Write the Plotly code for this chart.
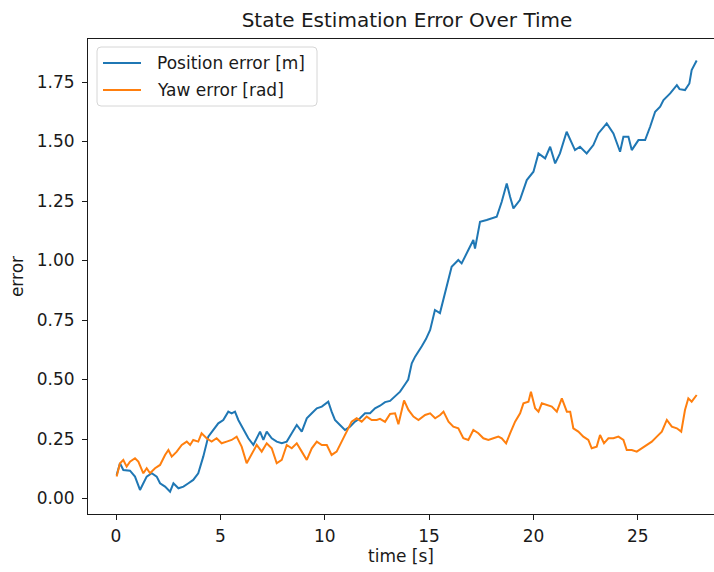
import plotly.graph_objects as go

# Position error [m]
t_pos = [0.03, 0.19, 0.35, 0.67, 0.91, 1.15, 1.31, 1.47, 1.71, 1.95, 2.11, 2.35, 2.59, 2.75, 2.99,
         3.23, 3.47, 3.70, 3.94, 4.18, 4.42, 4.66, 4.90, 5.14, 5.38, 5.54, 5.70, 5.86, 6.10, 6.34,
         6.58, 6.74, 6.90, 7.06, 7.22, 7.46, 7.70, 7.94, 8.18, 8.42, 8.66, 8.90, 9.14, 9.38, 9.62,
         9.86, 10.17, 10.33, 10.49, 10.73, 10.97, 11.21, 11.45, 11.69, 11.93, 12.17, 12.41, 12.65,
         12.89, 13.13, 13.37, 13.61, 13.85, 14.00, 14.17, 14.33, 14.65, 14.85, 15.05, 15.28, 15.52,
         15.76, 16.08, 16.40, 16.56, 16.88, 17.12, 17.20, 17.44, 17.76, 18.24, 18.48, 18.72, 18.88,
         19.04, 19.35, 19.68, 20.00, 20.24, 20.56, 20.80, 21.04, 21.27, 21.59, 21.75, 21.99, 22.23,
         22.55, 22.87, 23.11, 23.51, 23.83, 24.15, 24.31, 24.55, 24.71, 25.03, 25.35, 25.59, 25.83,
         26.07, 26.23, 26.55, 26.87, 27.00, 27.26, 27.47, 27.58, 27.82]
pos_err = [0.099, 0.148, 0.120, 0.117, 0.092, 0.036, 0.064, 0.092, 0.106, 0.092, 0.064, 0.050, 0.029,
           0.064, 0.043, 0.050, 0.064, 0.078, 0.106, 0.176, 0.260, 0.288, 0.316, 0.330, 0.365, 0.358,
           0.365, 0.330, 0.288, 0.253, 0.225, 0.253, 0.281, 0.246, 0.281, 0.253, 0.239, 0.232, 0.239,
           0.274, 0.309, 0.281, 0.337, 0.358, 0.379, 0.386, 0.407, 0.365, 0.330, 0.309, 0.288, 0.302,
           0.323, 0.337, 0.358, 0.358, 0.379, 0.390, 0.405, 0.410, 0.430, 0.449, 0.480, 0.500, 0.568,
           0.596, 0.640, 0.670, 0.708, 0.792, 0.779, 0.863, 0.974, 1.002, 0.988, 1.044, 1.086, 1.050,
           1.163, 1.170, 1.184, 1.247, 1.324, 1.268, 1.219, 1.254, 1.338, 1.373, 1.450, 1.429, 1.478,
           1.408, 1.450, 1.541, 1.510, 1.464, 1.478, 1.450, 1.485, 1.534, 1.576, 1.534, 1.457, 1.520,
           1.520, 1.464, 1.506, 1.506, 1.562, 1.625, 1.646, 1.674, 1.702, 1.737, 1.720, 1.716, 1.744,
           1.800, 1.840]

# Yaw error [rad]
t_yaw = [0.03, 0.19, 0.35, 0.51, 0.67, 0.91, 1.07, 1.31, 1.47, 1.63, 1.87, 2.11, 2.35, 2.51, 2.67,
         2.91, 3.15, 3.39, 3.55, 3.70, 3.94, 4.10, 4.34, 4.58, 4.82, 5.06, 5.30, 5.54, 5.78, 6.02,
         6.26, 6.50, 6.74, 6.98, 7.22, 7.46, 7.70, 7.94, 8.18, 8.42, 8.66, 8.90, 9.14, 9.38, 9.62,
         9.86, 10.10, 10.33, 10.57, 10.81, 11.05, 11.29, 11.53, 11.77, 12.01, 12.25, 12.49, 12.65,
         12.89, 13.13, 13.37, 13.53, 13.80, 14.01, 14.25, 14.49, 14.81, 15.05, 15.29, 15.53, 15.69,
         15.93, 16.16, 16.40, 16.64, 16.88, 17.12, 17.36, 17.60, 17.84, 18.08, 18.32, 18.48, 18.69,
         18.88, 19.12, 19.36, 19.52, 19.76, 19.88, 20.08, 20.24, 20.40, 20.64, 20.88, 21.12, 21.36,
         21.60, 21.76, 21.91, 22.15, 22.39, 22.63, 22.79, 23.03, 23.19, 23.38, 23.59, 23.83, 24.07,
         24.31, 24.47, 24.71, 24.95, 25.19, 25.43, 25.67, 25.91, 26.15, 26.39, 26.63, 26.87, 27.08,
         27.26, 27.42, 27.58, 27.82]
yaw_err = [0.092, 0.148, 0.162, 0.134, 0.155, 0.169, 0.155, 0.106, 0.127, 0.106, 0.127, 0.141, 0.183,
           0.204, 0.176, 0.197, 0.225, 0.239, 0.225, 0.246, 0.239, 0.274, 0.253, 0.239, 0.253, 0.232,
           0.239, 0.246, 0.260, 0.218, 0.148, 0.190, 0.225, 0.197, 0.232, 0.211, 0.148, 0.162, 0.225,
           0.211, 0.232, 0.197, 0.162, 0.211, 0.239, 0.225, 0.225, 0.183, 0.197, 0.239, 0.281, 0.323,
           0.337, 0.323, 0.344, 0.330, 0.330, 0.335, 0.322, 0.355, 0.358, 0.312, 0.412, 0.372, 0.344,
           0.330, 0.351, 0.358, 0.337, 0.351, 0.365, 0.323, 0.302, 0.295, 0.253, 0.246, 0.288, 0.274,
           0.253, 0.246, 0.253, 0.260, 0.253, 0.232, 0.274, 0.323, 0.358, 0.400, 0.407, 0.449, 0.379,
           0.365, 0.400, 0.393, 0.386, 0.365, 0.421, 0.365, 0.365, 0.295, 0.281, 0.260, 0.246, 0.211,
           0.218, 0.267, 0.232, 0.253, 0.253, 0.260, 0.246, 0.204, 0.204, 0.197, 0.211, 0.225, 0.239,
           0.260, 0.281, 0.330, 0.302, 0.295, 0.281, 0.372, 0.421, 0.407, 0.435]

series_names = ["Position error [m]", "Yaw error [rad]"]
series_colors = ["#1f77b4", "#ff7f0e"]

x_ticks = [0, 5, 10, 15, 20, 25]
y_ticks = [0.00, 0.25, 0.50, 0.75, 1.00, 1.25, 1.50, 1.75]
y_tick_text = ["0.00", "0.25", "0.50", "0.75", "1.00", "1.25", "1.50", "1.75"]

FONT = "DejaVu Sans"
TXT = "#1a1a1a"
FS = 17

# plot-area pixel geometry (used for the hand-drawn legend box)
W, H = 714, 572
L, R, T, B = 88, 0, 39, 58
PW, PH = W - L - R, H - T - B


def px(x):
    return (x - L) / PW


def py(y):
    return (H - B - y) / PH


fig = go.Figure()
for xs, ys, nm, col in [(t_pos, pos_err, series_names[0], series_colors[0]),
                        (t_yaw, yaw_err, series_names[1], series_colors[1])]:
    fig.add_trace(go.Scatter(x=xs, y=ys, mode="lines", name=nm, showlegend=False,
                             line=dict(color=col, width=2)))

# legend (matplotlib-style rounded box)
bx0, bx1, by0, by1, rr = 97, 317, 47, 106, 4
path = (f"M {px(bx0 + rr)},{py(by0)} L {px(bx1 - rr)},{py(by0)} "
        f"Q {px(bx1)},{py(by0)} {px(bx1)},{py(by0 + rr)} L {px(bx1)},{py(by1 - rr)} "
        f"Q {px(bx1)},{py(by1)} {px(bx1 - rr)},{py(by1)} L {px(bx0 + rr)},{py(by1)} "
        f"Q {px(bx0)},{py(by1)} {px(bx0)},{py(by1 - rr)} L {px(bx0)},{py(by0 + rr)} "
        f"Q {px(bx0)},{py(by0)} {px(bx0 + rr)},{py(by0)} Z")
shapes = [dict(type="path", xref="paper", yref="paper", path=path,
               line=dict(color="#d6d6d6", width=1), fillcolor="rgba(255,255,255,0.85)")]
annotations = []
for i, (nm, col) in enumerate(zip(series_names, series_colors)):
    yy = 63 + 27 * i
    shapes.append(dict(type="line", xref="paper", yref="paper", x0=px(103), x1=px(141),
                       y0=py(yy), y1=py(yy), line=dict(color=col, width=2)))
    annotations.append(dict(xref="paper", yref="paper", x=px(155), y=py(yy), text=nm,
                            showarrow=False, xanchor="left", yanchor="middle",
                            font=dict(family=FONT, size=FS, color=TXT)))

fig.update_layout(
    width=W, height=H,
    margin=dict(l=L, r=R, t=T, b=B),
    paper_bgcolor="white", plot_bgcolor="white",
    font=dict(family=FONT, size=FS, color=TXT),
    title=dict(text="State Estimation Error Over Time", x=(407 - L) / PW, xref="paper",
               xanchor="center", y=1 - 20 / H, yanchor="middle",
               font=dict(family=FONT, size=20, color=TXT)),
    showlegend=False,
    shapes=shapes,
    annotations=annotations,
    xaxis=dict(range=[-1.342, 28.65], tickvals=x_ticks, ticktext=[str(v) for v in x_ticks],
               showgrid=False, zeroline=False, showline=True, linecolor=TXT, linewidth=1,
               mirror=True, ticks="outside", ticklen=5, tickcolor=TXT, ticklabelstandoff=2,
               tickfont=dict(family=FONT, size=FS, color=TXT),
               title=dict(text="time [s]", font=dict(family=FONT, size=FS, color=TXT), standoff=4)),
    yaxis=dict(range=[-0.0651, 1.9307], tickvals=y_ticks, ticktext=y_tick_text,
               showgrid=False, zeroline=False, showline=True, linecolor=TXT, linewidth=1,
               mirror=False, ticks="outside", ticklen=5, tickcolor=TXT, ticklabelstandoff=4,
               tickfont=dict(family=FONT, size=FS, color=TXT),
               title=dict(text="error", font=dict(family=FONT, size=FS, color=TXT), standoff=8)),
)

fig.write_html("out.html")
